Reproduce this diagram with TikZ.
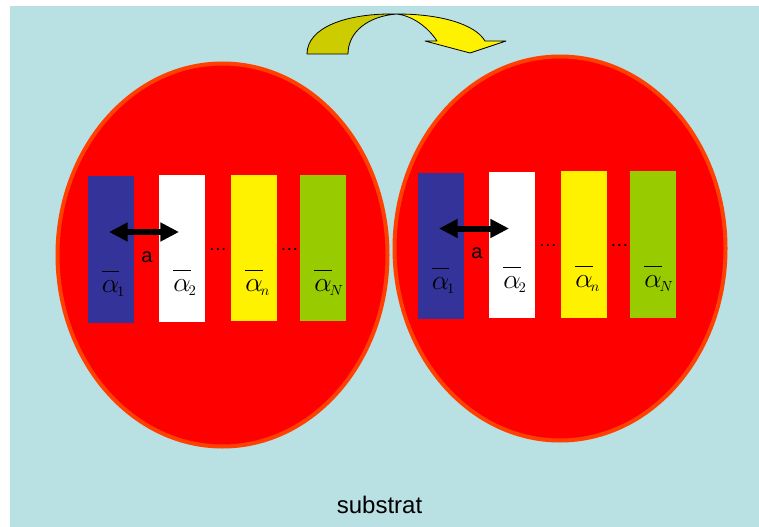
\documentclass[tikz,border=0pt]{standalone}
\usepackage{fontspec}
\setmainfont{Liberation Sans}
\usetikzlibrary{arrows.meta}
\begin{document}
\begin{tikzpicture}[x=0.75pt, y=-0.75pt, line join=round]
  \definecolor{cSky}{RGB}{185, 224, 227}
  \definecolor{cBlob}{RGB}{255, 0, 0}
  \definecolor{cRim}{RGB}{255, 64, 0}
  \definecolor{cBlue}{RGB}{51, 51, 153}
  \definecolor{cLime}{RGB}{153, 204, 0}
  \definecolor{cOlive}{RGB}{204, 204, 0}
  \tikzset{
    bar/.style={minimum width=34.5pt, minimum height=110pt, inner sep=0pt},
    alpha/.style={anchor=base, font=\fontsize{21}{24}\selectfont, inner sep=0pt},
    spacing/.style={line width=4.5pt, {Triangle[length=14pt, width=13.5pt]}-{Triangle[length=14pt, width=13.5pt]}}
  }
  \newcommand{\layerlab}[1]{$\overline{\vphantom{b}\alpha}\rlap{$\kern-1.5pt_{\scriptscriptstyle #1}$}$}

  \useasboundingbox (0,0) rectangle (759,527);
  \fill[cSky] (10,6) rectangle (759,527);

  % the two grains
  \draw[cRim, line width=3pt, fill=cBlob] (222.5,255) ellipse [x radius=165, y radius=191.5];
  \draw[cRim, line width=3pt, fill=cBlob] (560,248.5) ellipse [x radius=165.5, y radius=192];

  % layers inside each grain
  \foreach \g/\dx/\dy in {L/0/0, R/330/-3.5} {
    \begin{scope}[shift={(\dx,\dy)}]
      \node[bar, fill=cBlue]  (\g1) at (110.5,249.5) {};
      \node[bar, fill=white]  (\g2) at (182,248.5) {};
      \node[bar, fill=yellow] (\g3) at (254,248) {};
      \node[bar, fill=cLime]  (\g4) at (323,248) {};

      \node[alpha] (\g a1) at ([yshift=-32.5pt]\g1.center) {\layerlab{1}};
      \node[alpha] (\g a2) at ([yshift=-32.5pt]\g2.center) {\layerlab{2}};
      \node[alpha] (\g a3) at ([yshift=-32.5pt]\g3.center) {\layerlab{n}};
      \node[alpha] (\g a4) at ([yshift=-32.5pt]\g4.center) {\layerlab{N}};

      \coordinate (\g s) at (109,232);
      \coordinate (\g e) at (179,232);
      \draw[spacing] (\g s) -- (\g e);
      \node[anchor=base, font=\fontsize{15}{18}\selectfont] (\g lab) at (147,262) {a};

      \node[anchor=base, font=\fontsize{14}{16}\selectfont, inner sep=0pt] (\g d1) at (218,250) {…};
      \node[anchor=base, font=\fontsize{14}{16}\selectfont, inner sep=0pt] (\g d2) at (289.5,250) {…};
    \end{scope}
  }

  % curved arrow on top
  \filldraw[fill=cOlive, draw=black, line width=0.6pt]
    (307,54) -- (348,54) .. controls (348,32) and (368,16) .. (397,14)
    .. controls (345,13) and (307,28) .. (307,54) -- cycle;
  \filldraw[fill=yellow, draw=black, line width=0.6pt]
    (397,14) .. controls (440,14) and (475,24) .. (485,41) -- (506,41) -- (470,53)
    -- (425,41) -- (437,41) .. controls (427,26) and (412,16) .. (397,14) -- cycle;

  \node[anchor=base, font=\fontsize{18}{22}\selectfont] (sub) at (379.5,513) {substrat};
\end{tikzpicture}
\end{document}
